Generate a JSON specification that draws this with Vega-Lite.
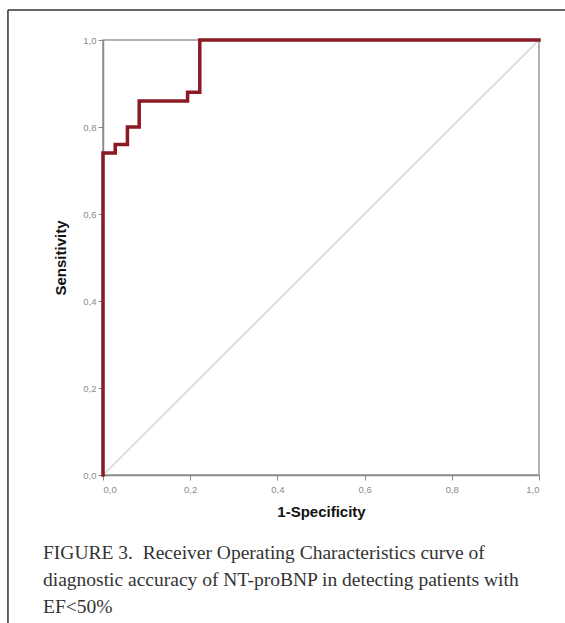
{
  "$schema": "https://vega.github.io/schema/vega-lite/v6.json",
  "width": 436,
  "height": 435,
  "autosize": {"type": "none"},
  "padding": {"left": 103, "top": 40, "right": 26, "bottom": 148},
  "background": "white",
  "title": {
    "text": ["FIGURE 3.\u00a0\u00a0Receiver Operating Characteristics curve of", "diagnostic accuracy of NT-proBNP in detecting patients with", "EF<50%"],
    "orient": "bottom",
    "anchor": "start",
    "frame": "group",
    "dx": -60,
    "offset": -80,
    "font": "Liberation Serif",
    "fontSize": 19.5,
    "fontWeight": "normal",
    "color": "#333333",
    "lineHeight": 27,
    "baseline": "top"
  },
  "config": {
    "view": {"stroke": "#9a9a9a", "strokeWidth": 1.5},
    "axis": {
      "domainColor": "#8a8a8a",
      "domainWidth": 1.5,
      "tickColor": "#8a8a8a",
      "tickSize": 5,
      "grid": false,
      "labelColor": "#8a8a8a",
      "labelFont": "Liberation Sans",
      "labelFontSize": 9.5,
      "titleFont": "Liberation Sans",
      "titleFontSize": 15,
      "titleFontWeight": "bold",
      "titleColor": "#111111"
    }
  },
  "datasets": {
    "roc": [
      {"fpr": 0, "sens": 0, "o": 1},
      {"fpr": 0, "sens": 0.74, "o": 2},
      {"fpr": 0.028, "sens": 0.74, "o": 3},
      {"fpr": 0.028, "sens": 0.76, "o": 4},
      {"fpr": 0.056, "sens": 0.76, "o": 5},
      {"fpr": 0.056, "sens": 0.8, "o": 6},
      {"fpr": 0.083, "sens": 0.8, "o": 7},
      {"fpr": 0.083, "sens": 0.86, "o": 8},
      {"fpr": 0.194, "sens": 0.86, "o": 9},
      {"fpr": 0.194, "sens": 0.88, "o": 10},
      {"fpr": 0.222, "sens": 0.88, "o": 11},
      {"fpr": 0.222, "sens": 1.0, "o": 12},
      {"fpr": 1.0, "sens": 1.0, "o": 13}
    ],
    "diag": [
      {"fpr": 0, "sens": 0},
      {"fpr": 1, "sens": 1}
    ],
    "frame": [
      {"x1": -0.218, "x2": 1.06, "y1": 1.069, "y2": 1.069},
      {"x1": -0.218, "x2": -0.218, "y1": 1.069, "y2": -0.34}
    ]
  },
  "layer": [
    {
      "data": {"name": "diag"},
      "mark": {"type": "line", "color": "#d4d4d4", "strokeWidth": 1.5},
      "encoding": {
        "x": {"field": "fpr", "type": "quantitative", "scale": {"domain": [0, 1]},
          "axis": {"title": "1-Specificity", "values": [0, 0.2, 0.4, 0.6, 0.8, 1], "labelExpr": "replace(format(datum.value, '.1f'), '.', ',')", "titlePadding": 11, "labelPadding": 4}},
        "y": {"field": "sens", "type": "quantitative", "scale": {"domain": [0, 1]},
          "axis": {"title": "Sensitivity", "values": [0, 0.2, 0.4, 0.6, 0.8, 1], "labelExpr": "replace(format(datum.value, '.1f'), '.', ',')", "titlePadding": 14, "labelPadding": 2}}
      }
    },
    {
      "data": {"name": "roc"},
      "mark": {"type": "line", "color": "#8b1a25", "strokeWidth": 3.5, "strokeJoin": "miter", "strokeCap": "square"},
      "encoding": {
        "x": {"field": "fpr", "type": "quantitative"},
        "y": {"field": "sens", "type": "quantitative"},
        "order": {"field": "o"}
      }
    },
    {
      "data": {"name": "frame"},
      "mark": {"type": "rule", "color": "#333333", "strokeWidth": 1.5, "clip": false},
      "encoding": {
        "x": {"field": "x1", "type": "quantitative"},
        "x2": {"field": "x2"},
        "y": {"field": "y1", "type": "quantitative"},
        "y2": {"field": "y2"}
      }
    }
  ]
}
